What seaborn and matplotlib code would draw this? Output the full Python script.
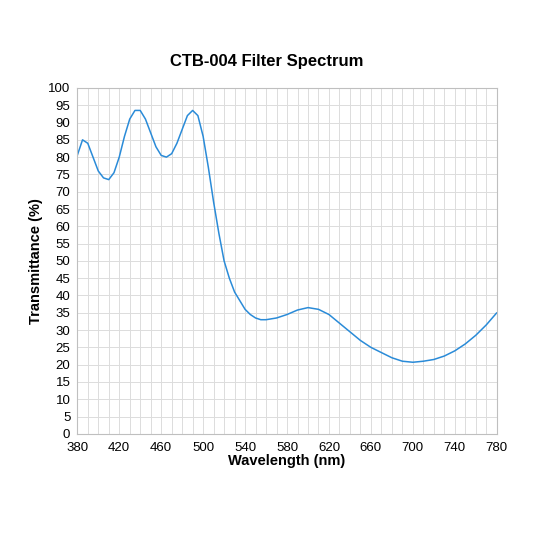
import numpy as np
import matplotlib
matplotlib.use("Agg")
import matplotlib.pyplot as plt
import seaborn as sns

# Values
wavelength = [380, 385, 390, 395, 400, 405, 410, 415, 420, 425, 430, 435, 440,
              445, 450, 455, 460, 465, 470, 475, 480, 485, 490, 495, 500, 505,
              510, 515, 520, 525, 530, 535, 540, 545, 550, 555, 560, 570, 580,
              590, 600, 610, 620, 630, 640, 650, 660, 670, 680, 690, 700, 710,
              720, 730, 740, 750, 760, 770, 780]
transmittance = [80.5, 85, 84, 80, 76, 74, 73.5, 75.5, 80, 86, 91, 93.5, 93.5,
                 91, 87, 83, 80.5, 80, 81, 84, 88, 92, 93.5, 92, 86, 77,
                 67, 58, 50, 45, 41, 38.5, 36, 34.5, 33.5, 33, 33, 33.5, 34.5,
                 35.8, 36.5, 36, 34.5, 32, 29.5, 27, 25, 23.5, 22, 21, 20.7, 21,
                 21.5, 22.5, 24, 26, 28.5, 31.5, 35]

sns.set_style("white")
plt.rcParams['font.family'] = ['Liberation Sans', 'DejaVu Sans']
plt.rcParams['text.color'] = 'black'
plt.rcParams['axes.labelcolor'] = 'black'
plt.rcParams['xtick.color'] = 'black'
plt.rcParams['ytick.color'] = 'black'

fig = plt.figure(figsize=(5.33, 5.33), dpi=100)
ax = fig.add_axes([0.145, 0.186, 0.787, 0.649])

sns.lineplot(x=wavelength, y=transmittance, ax=ax, color='#2a8bd8', linewidth=1.1)

ax.set_xlim(380, 780)
ax.set_ylim(0, 100)
ax.set_xticks(np.arange(380, 781, 40))
ax.set_xticks(np.arange(380, 781, 10), minor=True)
ax.set_yticks(np.arange(0, 101, 5))
ax.grid(True, which='both', color='#dcdcdc', linewidth=0.7)
ax.set_axisbelow(True)
ax.tick_params(which='both', length=0, labelsize=9.5)
ax.tick_params(axis='x', pad=6)
ax.tick_params(axis='y', pad=5)
for s in ax.spines.values():
    s.set_color('#bfbfbf')
    s.set_linewidth(0.8)

ax.set_xlabel('Wavelength (nm)', fontweight='bold', fontsize=10.5, labelpad=0)
ax.set_ylabel('Transmittance (%)', fontweight='bold', fontsize=10.5, labelpad=4)
fig.suptitle('CTB-004 Filter Spectrum', fontweight='bold', fontsize=12, y=0.898)

plt.savefig('out.png', dpi=100)
plt.close()
